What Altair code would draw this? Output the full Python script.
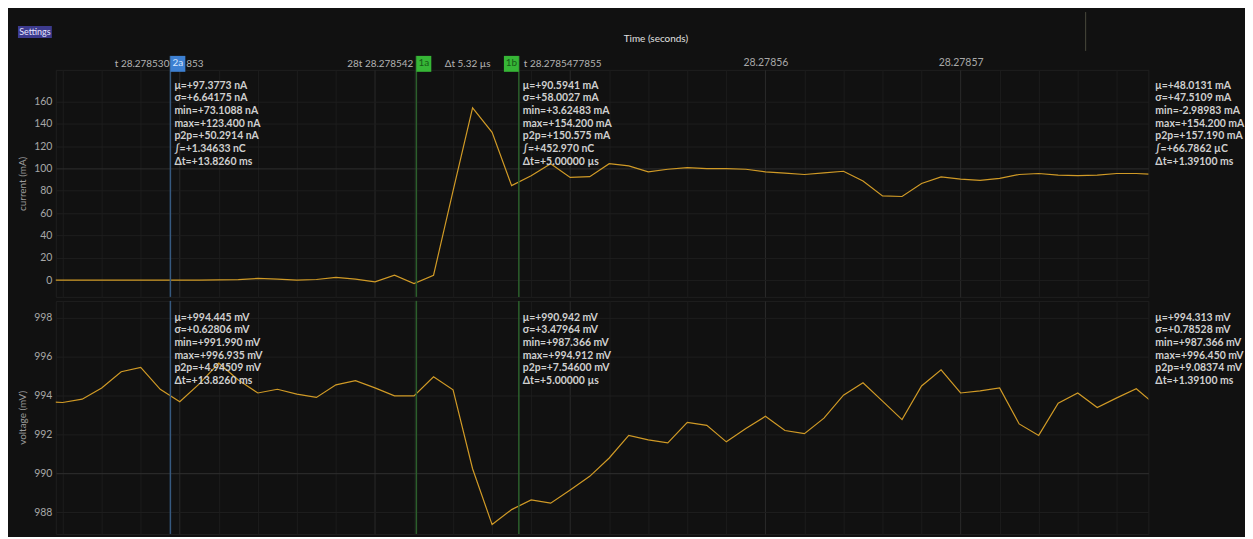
import altair as alt
import pandas as pd

# ---------------- data ----------------
T0 = 28.27855                     # seconds; x values are microsecond offsets from it
t_us = list(range(-27, 31))
current_mA = [0.0, 0.0, 0.0, 0.0, 0.0, 0.0, 0.0, 0.0,
              0.1, 0.2, 0.5, 1.5, 0.9, 0.0, 0.6, 2.4, 0.9, -1.5, 4.4, -3.0, 4.4,
              80.0, 154.2, 132.4, 84.6, 93.5, 104.3, 92.0, 92.6, 104.3, 102.3, 97.0,
              99.3, 100.8, 99.9, 99.9, 99.3, 97.0, 95.8, 94.6, 96.0, 97.5, 88.7,
              75.4, 74.9, 86.6, 92.5, 90.5, 89.3, 91.1, 94.6, 95.5, 94.0, 93.5,
              94.0, 95.5, 95.5, 94.5]
voltage_mV = [993.70, 993.64, 993.81, 994.39, 995.22, 995.44, 994.32, 993.68,
              994.60, 995.66, 994.80, 994.13, 994.32, 994.07, 993.90, 994.55,
              994.76, 994.39, 993.98, 993.98, 994.96, 994.29, 990.24, 987.37,
              988.14, 988.64, 988.47, 989.15, 989.85, 990.79, 991.95, 991.72,
              991.57, 992.62, 992.47, 991.62, 992.30, 992.93, 992.20, 992.04,
              992.84, 994.02, 994.65, 993.71, 992.76, 994.49, 995.32, 994.13,
              994.24, 994.39, 992.54, 991.95, 993.60, 994.13, 993.38, 993.88,
              994.35, 993.50]

cursor_names = ["2a", "1a", "1b"]
cursor_us = [-20.48, -7.88, -2.63]
cursor_side = [1, 1, -1]          # flag drawn right (+1) or left (-1) of its cursor

label_2a_left = "t  28.278530"    # visible part left of the 2a flag
label_2a_right = "853"            # visible part right of the 2a flag
label_1a = "28t  28.278542"       # tick-label remnant "28" + cursor read-out
label_delta = "Δt  5.32 µs"
label_1b = "t  28.2785477855"

cur_stats_2a = ["μ=+97.3773 nA", "σ=+6.64175 nA", "min=+73.1088 nA", "max=+123.400 nA",
                "p2p=+50.2914 nA", "∫=+1.34633 nC", "Δt=+13.8260 ms"]
cur_stats_1b = ["μ=+90.5941 mA", "σ=+58.0027 mA", "min=+3.62483 mA", "max=+154.200 mA",
                "p2p=+150.575 mA", "∫=+452.970 nC", "Δt=+5.00000 µs"]
cur_stats_all = ["μ=+48.0131 mA", "σ=+47.5109 mA", "min=-2.98983 mA", "max=+154.200 mA",
                 "p2p=+157.190 mA", "∫=+66.7862 µC", "Δt=+1.39100 ms"]
volt_stats_2a = ["μ=+994.445 mV", "σ=+0.62806 mV", "min=+991.990 mV", "max=+996.935 mV",
                 "p2p=+4.94509 mV", "Δt=+13.8260 ms"]
volt_stats_1b = ["μ=+990.942 mV", "σ=+3.47964 mV", "min=+987.366 mV", "max=+994.912 mV",
                 "p2p=+7.54600 mV", "Δt=+5.00000 µs"]
volt_stats_all = ["μ=+994.313 mV", "σ=+0.78528 mV", "min=+987.366 mV", "max=+996.450 mV",
                  "p2p=+9.08374 mV", "Δt=+1.39100 ms"]

cur_ticks = [0, 20, 40, 60, 80, 100, 120, 140, 160]
volt_ticks = [988, 990, 992, 994, 996, 998]
time_grid = list(range(-26, 30, 2))

# ---------------- layout / style ----------------
X_DOMAIN = [-26.35, 29.62]
W = 1097
H1 = 228
H2 = 234
PX_PER_US = W / (X_DOMAIN[1] - X_DOMAIN[0])
FLAG_W = 15
FONT = "Lato"
BG = "#111111"
LINE = "#d09a26"
TXT = "#cfcfcf"

series = pd.DataFrame({"u": t_us, "current": current_mA, "voltage": voltage_mV})
cursors = pd.DataFrame({"name": cursor_names, "u": cursor_us, "side": cursor_side})
cursors["line"] = ["#36597f", "#2c5f2c", "#2c5f2c"]
cursors["flag"] = ["#3d80d2", "#36b636", "#36b636"]
cursors["ftxt"] = ["#d6e6ff", "#175a17", "#175a17"]

grid_color_x = {"condition": {"test": "datum.value % 10 === 0", "value": "#2a2a2a"},
                "value": "#1c1c1c"}

x_scale = alt.Scale(domain=X_DOMAIN, nice=False, zero=False)
x_top = alt.X(
    "u:Q", scale=x_scale,
    axis=alt.Axis(
        orient="top", values=time_grid, grid=True, gridColor=grid_color_x,
        ticks=False, domain=False, labelPadding=2, labelFontSize=10.5,
        labelColor="#a8a8a8", labelFont=FONT,
        labelExpr=f"datum.value % 10 === 0 && datum.value >= 10 ? format({T0} + datum.value / 1e6, '.5f') : ''",
        title="Time (seconds)", titleX=602, titleY=-31, titleBaseline="middle",
        titleAlign="center", titleFontSize=10, titleFontWeight="normal",
        titleColor="#e0e0e0", titleFont=FONT,
    ),
)
x_bot = alt.X(
    "u:Q", scale=x_scale,
    axis=alt.Axis(values=time_grid, grid=True, gridColor=grid_color_x, labels=False,
                  ticks=False, domain=False, title=None),
)
x_c = alt.X("u:Q", scale=x_scale)


def y_axis(title, ticks, bright):
    return alt.Axis(
        values=ticks, grid=True,
        gridColor={"condition": {"test": f"datum.value === {bright}", "value": "#2e2e2e"},
                   "value": "#1e1e1e"},
        ticks=False, domain=False, labelPadding=4, labelFontSize=10.5,
        labelColor="#a8a8a8", labelFont=FONT, minExtent=20, maxExtent=20,
        title=title, titlePadding=8, titleFontSize=10, titleFontWeight="normal",
        titleColor="#9c9c9c", titleFont=FONT,
    )


def stat_layer(lines, xenc, y0, dx, anchor=None):
    df = pd.DataFrame({"txt": ["\n".join(lines)], "u": [anchor if anchor is not None else 0.0]})
    return alt.Chart(df).mark_text(
        align="left", baseline="top", dx=dx, lineBreak="\n", lineHeight=12.7,
        font=FONT, fontSize=10.5, fontWeight="bold", color=TXT,
    ).encode(x=xenc, y=alt.value(y0), text="txt:N")


def cursor_rules(y0, y1):
    return alt.Chart(cursors).mark_rule(strokeWidth=1.5).encode(
        x=x_c, y=alt.value(y0), y2=alt.value(y1),
        color=alt.Color("line:N", scale=None),
    )


# ---------------- current panel ----------------
cur_line = alt.Chart(series).mark_line(color=LINE, strokeWidth=1.2, clip=True).encode(
    x=x_top,
    y=alt.Y("current:Q", scale=alt.Scale(domain=[-15, 188.3], nice=False, zero=False),
            axis=y_axis("current (mA)", cur_ticks, 100)),
)

flags = alt.Chart(cursors).transform_calculate(
    u2=f"datum.u + datum.side * {FLAG_W / PX_PER_US}",
    um=f"datum.u + datum.side * {FLAG_W / PX_PER_US / 2}",
)
flag_rect = flags.mark_rect().encode(
    x=x_c, x2="u2:Q", y=alt.value(-14), y2=alt.value(2),
    color=alt.Color("flag:N", scale=None),
)
flag_text = flags.mark_text(font=FONT, fontSize=10, baseline="middle").encode(
    x=alt.X("um:Q", scale=x_scale), y=alt.value(-7), text="name:N",
    color=alt.Color("ftxt:N", scale=None),
)

hdr_style = dict(font=FONT, fontSize=10, color="#b4b4b4", baseline="middle")
mid_u = (cursor_us[1] + cursor_us[2]) / 2
hdr_items = pd.DataFrame({
    "txt": [label_2a_left, label_2a_right, label_1a, label_delta, label_1b],
    "u": [cursor_us[0], cursor_us[0], cursor_us[1], mid_u, cursor_us[2]],
})


def hdr_text(i, align, dx):
    return alt.Chart(hdr_items.iloc[[i]]).mark_text(align=align, dx=dx, **hdr_style).encode(
        x=x_c, y=alt.value(-6), text="txt:N")


hdr = alt.layer(
    hdr_text(0, "right", -1),
    hdr_text(1, "left", 16),
    hdr_text(2, "right", -3),
    hdr_text(3, "center", 0),
    hdr_text(4, "left", 5),
)

ui = pd.DataFrame({"txt": ["Settings"]})
settings_box = alt.Chart(ui).mark_rect(color="#3d3b8e").encode(
    x=alt.value(-38), x2=alt.value(-4), y=alt.value(-44), y2=alt.value(-32))
settings_txt = alt.Chart(ui).mark_text(font=FONT, fontSize=9, color="#e6e6ff", baseline="middle").encode(
    x=alt.value(-21), y=alt.value(-38), text="txt:N")
separator = alt.Chart(ui).mark_rule(color="#4a4a3c", strokeWidth=1).encode(
    x=alt.value(1034), y=alt.value(-58), y2=alt.value(-19))

top = alt.layer(
    cur_line,
    cursor_rules(-14, H1),
    hdr,
    flag_rect,
    flag_text,
    stat_layer(cur_stats_2a, x_c, 11, 4, cursor_us[0]),
    stat_layer(cur_stats_1b, x_c, 11, 4, cursor_us[2]),
    stat_layer(cur_stats_all, alt.value(W), 11, 7),
    settings_box, settings_txt, separator,
).properties(width=W, height=H1)

# ---------------- voltage panel ----------------
volt_line = alt.Chart(series).mark_line(color=LINE, strokeWidth=1.2, clip=True).encode(
    x=x_bot,
    y=alt.Y("voltage:Q", scale=alt.Scale(domain=[986.89, 998.86], nice=False, zero=False),
            axis=y_axis("voltage (mV)", volt_ticks, 990)),
)
bottom = alt.layer(
    volt_line,
    cursor_rules(0, H2),
    stat_layer(volt_stats_2a, x_c, 12, 4, cursor_us[0]),
    stat_layer(volt_stats_1b, x_c, 12, 4, cursor_us[2]),
    stat_layer(volt_stats_all, alt.value(W), 12, 7),
).properties(width=W, height=H2)

chart = alt.vconcat(top, bottom, spacing=0).properties(
    background=BG,
    padding={"left": 9, "top": 2, "right": 0, "bottom": 0},
).configure_view(stroke="#1f1f1f", strokeWidth=1).resolve_scale(x="shared")

chart.save("out.html", embed_options={"renderer": "svg", "actions": False})
